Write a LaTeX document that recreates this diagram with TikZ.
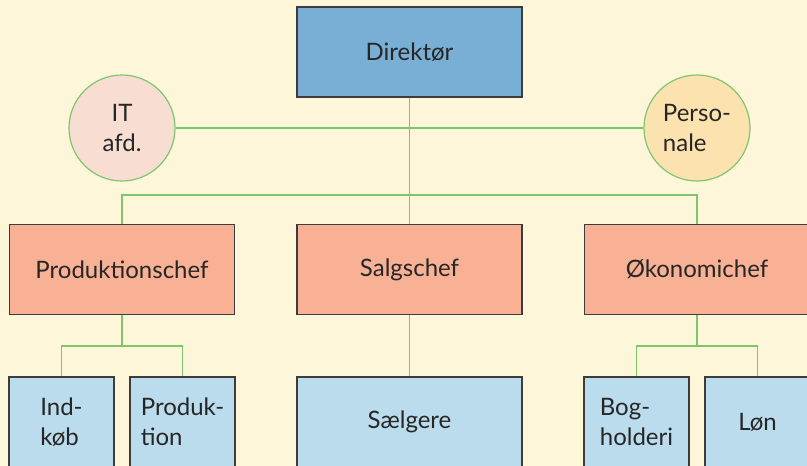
\documentclass[tikz,border=0pt]{standalone}
\usepackage{fontspec}
\setmainfont{Lato}
\definecolor{bg}{HTML}{FEF6D9}
\definecolor{dirblue}{HTML}{7AAFD5}
\definecolor{pinkc}{HTML}{F8DDD3}
\definecolor{yelc}{HTML}{FCE2AE}
\definecolor{salmon}{HTML}{F9B196}
\definecolor{lblue}{HTML}{BADCEC}
\definecolor{lgreen}{HTML}{7DC66E}
\definecolor{border}{HTML}{3C3C3C}
\begin{document}
\begin{tikzpicture}[x=1pt,y=-1pt,
  box/.style={draw=border,line width=1.2pt,rectangle,inner sep=0pt,
    font=\fontsize{24}{30}\selectfont,text=black!85},
  bigbox/.style={box,minimum width=225pt,minimum height=90pt},
  smallbox/.style={box,minimum width=105pt,minimum height=90pt,align=left},
  circ/.style={circle,draw=lgreen,line width=1.2pt,minimum size=106pt,inner sep=0pt,
    font=\fontsize{24}{30}\selectfont,text=black!85},
  conn/.style={draw=lgreen,line width=1.2pt},
  stem/.style={draw=lgreen,line width=1.8pt}]
\fill[bg] (0,0) rectangle (807,466);
\useasboundingbox (0,0) rectangle (807,466);
\clip (0,0) rectangle (807,466);
% nodes
\node[bigbox,fill=dirblue] (dir) at (409.5,52) {Direktør};
\node[circ,fill=pinkc,align=center] (it) at (122,128) {IT\\afd.};
\node[circ,fill=yelc,align=left] (pers) at (697,128) {Perso-\\nale};
\node[bigbox,fill=salmon] (prod) at (122,269.5) {Produktionschef};
\node[bigbox,fill=salmon] (salg) at (409.5,269.5) {Salgschef};
\node[bigbox,fill=salmon] (oko) at (697,269.5) {Økonomichef};
\node[smallbox,fill=lblue] (ind) at (61.5,422) {Ind-\\køb};
\node[smallbox,fill=lblue] (produk) at (182.5,422) {Produk-\\tion};
\node[bigbox,fill=lblue] (saelg) at (409.5,422) {Sælgere};
\node[smallbox,fill=lblue] (bog) at (636.5,422) {Bog-\\holderi};
\node[smallbox,fill=lblue] (lon) at (757.5,422) {Løn};
% connectors
\coordinate (b1) at (409.5,195);
\coordinate (b2) at (122,346);
\coordinate (b3) at (697,346);
\path[conn] (it.east) -- (pers.west);
\path[conn] (dir.south) -- (salg.north);
\path[conn] (prod.north) |- (b1) -| (oko.north);
\path[stem] (prod.south) -- (b2);
\path[conn] (ind.north) |- (b2) -| (produk.north);
\path[stem] (salg.south) -- (saelg.north);
\path[stem] (oko.south) -- (b3);
\path[conn] (bog.north) |- (b3) -| (lon.north);
\end{tikzpicture}
\end{document}
